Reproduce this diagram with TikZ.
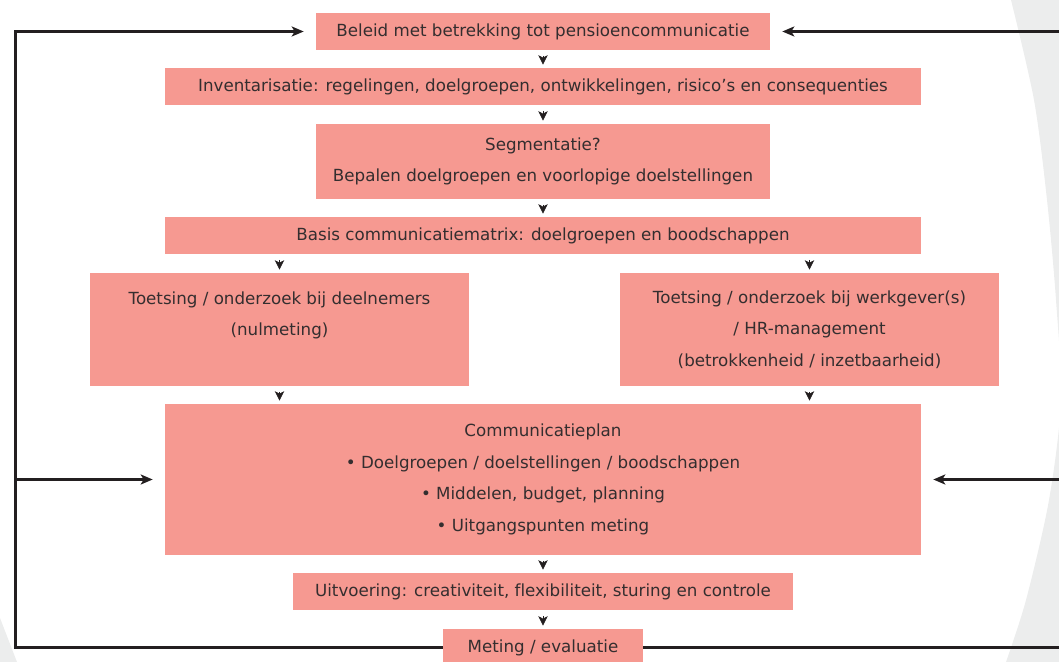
\documentclass[tikz,border=0pt]{standalone}
\usepackage{fontspec}
\setmainfont{DejaVu Sans}[Ligatures=NoCommon]
\usetikzlibrary{arrows.meta, positioning}
\definecolor{planSalmon}{RGB}{246, 153, 145}
\definecolor{textGrey}{RGB}{52, 46, 47}
\definecolor{lineBlack}{RGB}{35, 31, 32}
\definecolor{pageGrey}{RGB}{236, 237, 237}
\tikzset{
  stepbox/.style={
    rectangle, draw=none, fill=planSalmon,
    text=textGrey, align=center, inner sep=0pt,
    font=\fontsize{9.5pt}{17.9pt}\selectfont
  },
  smallhead/.style={
    -{Stealth[length=0.19cm,width=0.19cm,inset=0.05cm]},
    line width=0.4pt, color=lineBlack,
    shorten <=0.11cm, shorten >=0.06cm
  },
  feedback/.style={
    -{Stealth[length=0.24cm,width=0.2cm,inset=0.06cm]},
    line width=1.8pt, color=lineBlack,
    shorten >=0.24cm
  }
}

\begin{document}
\begin{tikzpicture}[x=0.02cm, y=-0.02cm]

  \useasboundingbox (0,0) rectangle (1059,662);
  \clip (0,0) rectangle (1059,662);

  % ── Page background ───────────────────────────────────────────────────────
  \fill[pageGrey] plot[smooth] coordinates {(1011,0) (1034,100) (1047,200)
    (1056,300) (1061,400) (1049,500) (1026,600) (1006,662)}
    -- (1100,662) -- (1100,0) -- cycle;
  \fill[pageGrey] (0,618) -- (17,662) -- (0,662) -- cycle;

  % ── Main column ──────────────────────────────────────────────────────────
  \node[stepbox, minimum width=9.08cm, minimum height=0.74cm] (beleid) at (543,31.5)
    {Beleid met betrekking tot pensioencommunicatie};
  \node[stepbox, minimum width=15.12cm, minimum height=0.74cm] (invent) at (543,86.5)
    {Inventarisatie: regelingen, doelgroepen, ontwikkelingen, risico’s en consequenties};
  \node[stepbox, minimum width=9.08cm, minimum height=1.5cm] (segment) at (543,161.5)
    {Segmentatie?\\Bepalen doelgroepen en voorlopige doelstellingen};
  \node[stepbox, minimum width=15.12cm, minimum height=0.74cm] (basis) at (543,235.5)
    {Basis communicatiematrix: doelgroepen en boodschappen};

  % ── Two test boxes ───────────────────────────────────────────────────────
  \node[stepbox, minimum width=7.58cm, minimum height=2.26cm] (toetsL) at (279.5,329.5)
    {Toetsing / onderzoek bij deelnemers\\(nulmeting)\\\mbox{}};
  \node[stepbox, minimum width=7.58cm, minimum height=2.26cm] (toetsR) at (809.5,329.5)
    {Toetsing / onderzoek bij werkgever(s)\\/ HR-management\\(betrokkenheid / inzetbaarheid)};

  % ── Plan and execution ───────────────────────────────────────────────────
  \node[stepbox, minimum width=15.12cm, minimum height=3.02cm] (plan) at (543,479.5)
    {Communicatieplan\\• Doelgroepen / doelstellingen / boodschappen\\
     • Middelen, budget, planning\\• Uitgangspunten meting};
  \node[stepbox, minimum width=10cm, minimum height=0.74cm] (uitv) at (543,591.5)
    {Uitvoering: creativiteit, flexibiliteit, sturing en controle};
  \node[stepbox, minimum width=4cm, minimum height=0.74cm] (meting) at (543,647.5)
    {Meting / evaluatie};

  % ── Small arrows between the boxes ───────────────────────────────────────
  \draw[smallhead] (beleid) -- (invent);
  \draw[smallhead] (invent) -- (segment);
  \draw[smallhead] (segment) -- (basis);
  \draw[smallhead] (basis.south -| toetsL) -- (toetsL);
  \draw[smallhead] (basis.south -| toetsR) -- (toetsR);
  \draw[smallhead] (toetsL) -- (plan.north -| toetsL);
  \draw[smallhead] (toetsR) -- (plan.north -| toetsR);
  \draw[smallhead] (plan) -- (uitv);
  \draw[smallhead] (uitv) -- (meting);

  % ── Feedback loops ───────────────────────────────────────────────────────
  \coordinate (lcorner) at (15.5,647.5);
  \coordinate (rcorner) at (1080,647.5);
  \draw[feedback] (meting.west) -- (lcorner) |- (beleid.west);
  \draw[feedback] (lcorner |- plan.west) -- (plan.west);
  \draw[feedback] (meting.east) -- (rcorner) |- (beleid.east);
  \draw[feedback] (rcorner |- plan.east) -- (plan.east);

\end{tikzpicture}
\end{document}
